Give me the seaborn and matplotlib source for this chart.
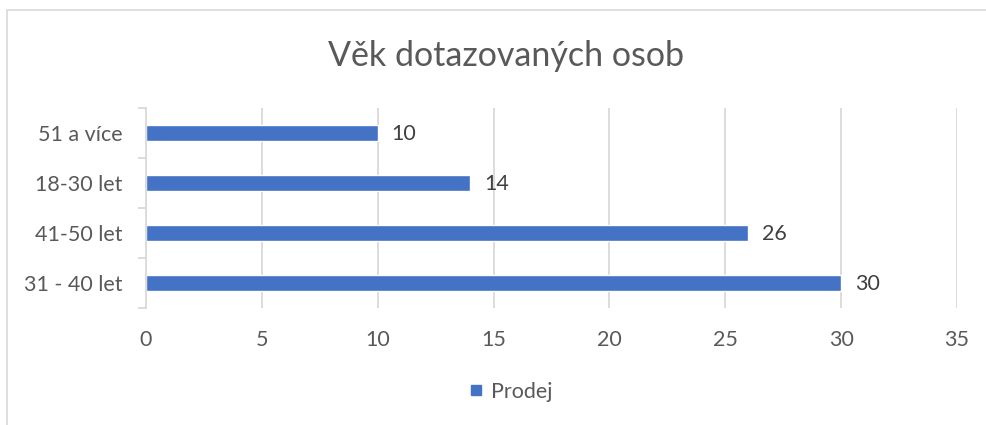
"""Age of respondents - horizontal bar chart."""

import pandas as pd
import matplotlib.pyplot as plt
import seaborn as sns
from matplotlib.patches import Rectangle
from matplotlib.lines import Line2D

# Data (top to bottom)
categories = ['51 a více', '18-30 let', '41-50 let', '31 - 40 let']
values = [10, 14, 26, 30]
series_name = 'Prodej'
x_ticks = [0, 5, 10, 15, 20, 25, 30, 35]

df = pd.DataFrame({'category': categories, 'value': values})

BLUE = '#4472C4'
GRID = '#D9D9D9'
TEXT = '#595959'
LABEL = '#404040'

sns.set_style('white')
plt.rcParams['font.family'] = ['Lato', 'DejaVu Sans']

W, H = 987, 425
fig = plt.figure(figsize=(W / 100, H / 100), dpi=100)

# Chart frame like the spreadsheet border
fig.patches.append(Rectangle((7 / W, -0.1), 2, 1 - 10 / H + 0.1,
                             transform=fig.transFigure, fill=False,
                             edgecolor=GRID, linewidth=1.2))

ax = fig.add_axes([146 / W, 1 - 308 / H, (957 - 146) / W, 200 / H])
sns.barplot(data=df, x='value', y='category', color=BLUE, width=0.33,
            saturation=1, ax=ax)

ax.set_xlim(0, 35)
ax.set_ylim(len(categories) - 0.5, -0.5)
ax.set_xticks(x_ticks)
ax.set_xlabel('')
ax.set_ylabel('')

# Vertical gridlines
for t in x_ticks[1:]:
    ax.axvline(t, color=GRID, linewidth=1.3, zorder=0)

for s in ['top', 'right', 'bottom']:
    ax.spines[s].set_visible(False)
ax.spines['left'].set_color(GRID)
ax.spines['left'].set_linewidth(1.3)

# Category ticks at the band boundaries
ax.set_yticks([i - 0.5 for i in range(len(categories) + 1)], minor=False)
ax.set_yticklabels([''] * (len(categories) + 1))
ax.tick_params(axis='y', which='major', length=6, width=1.3, color=GRID,
               direction='out', left=True)
ax.set_yticks(range(len(categories)), minor=True)
ax.set_yticklabels(categories, minor=True)
ax.tick_params(axis='y', which='minor', length=0, pad=17, labelsize=15.5,
               labelcolor=TEXT)
ax.tick_params(axis='x', length=0, pad=16, labelsize=15.5, labelcolor=TEXT)

# Data labels
for i, v in enumerate(values):
    ax.text(v + 0.6, i + 0.03, str(v), va='center', ha='left',
            fontsize=15.5, color=LABEL)

fig.text(506 / W, 1 - 56 / H, 'Věk dotazovaných osob', ha='center',
         va='center', fontsize=24.5, color=TEXT)

handle = Line2D([], [], marker='s', linestyle='', markersize=7,
                markerfacecolor=BLUE, markeredgecolor=BLUE)
fig.legend([handle], [series_name], loc='center',
           bbox_to_anchor=(509 / W, 1 - 392 / H), frameon=False,
           fontsize=15.5, labelcolor=TEXT, handletextpad=0.2,
           handlelength=1.0)

fig.savefig('out.png', dpi=100)
